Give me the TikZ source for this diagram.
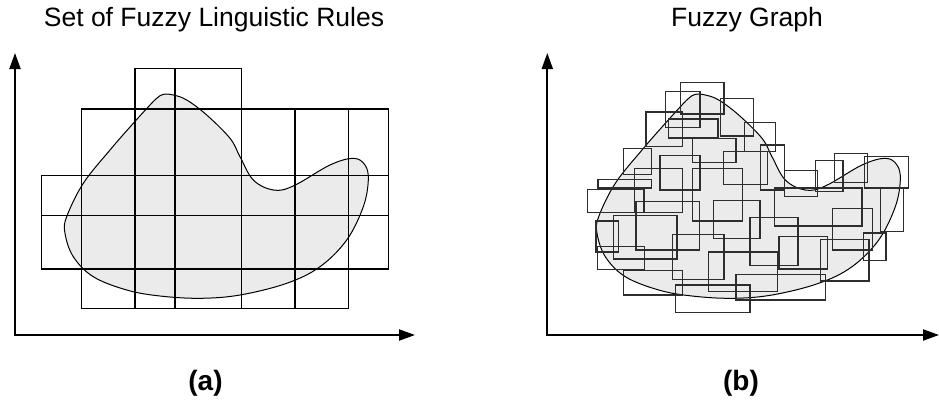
\documentclass[tikz,border=0pt]{standalone}
\usepackage{fontspec}
\setmainfont{Liberation Sans}
\usetikzlibrary{arrows.meta}
\definecolor{blobgray}{RGB}{235, 235, 235}
\definecolor{rulegray}{RGB}{45, 45, 45}
\tikzset{
    axisline/.style={line width=2pt, {Triangle[length=16pt, width=11pt]}-{Triangle[length=16pt, width=11pt]}},
    gridbox/.style={draw=black, line width=1.2pt},
    fuzzybox/.style={draw=rulegray, line width=1.3pt},
    blobshape/.style={fill=blobgray, draw=black, line width=1pt},
    paneltitle/.style={font=\fontsize{26.5}{30}\selectfont, anchor=base, inner sep=0pt},
    panellabel/.style={font=\fontsize{28}{32}\selectfont\bfseries, anchor=base, inner sep=0pt},
    blob/.pic={
        \filldraw[blobshape] plot[smooth cycle, tension=0.6] coordinates {
            (156.7,98.3) (163.3,94.3) (173.3,95) (186.7,100) (206.7,115) (230,138.3)
            (240,156.7) (253.3,180) (273.3,190) (293.3,186) (330,165) (353.3,158.3)
            (365,165) (368.3,180) (363.3,206.7) (346.7,240) (320,266.7) (286.7,283.3)
            (240,295) (200,298.3) (160,296) (126.7,290) (93.3,276.7) (73.3,256.7)
            (65,233.3) (66.7,216.7) (83.3,183.3) (110,150) (133.3,123.3) (150,105)};
    },
}

\begin{document}
\begin{tikzpicture}[x=1pt, y=-1pt]
    \useasboundingbox (0,0) rectangle (939,405);

    % (a) rule grid
    \pic at (0,0) {blob};
    \foreach \xa/\xb in {135/175, 175/241.7}
        \draw[gridbox] (\xa,68.3) rectangle (\xb,109);
    \foreach \xa/\xb in {81.7/135, 135/175, 175/241.7, 241.7/295, 295/348.3, 348.3/388.3}
        \draw[gridbox] (\xa,109) rectangle (\xb,175.7);
    \foreach \xa/\xb in {41.7/81.7, 81.7/135, 135/175, 175/241.7, 241.7/295, 295/348.3, 348.3/388.3}
        \draw[gridbox] (\xa,175.7) rectangle (\xb,215.7);
    \foreach \xa/\xb in {41.7/81.7, 81.7/135, 135/175, 175/241.7, 241.7/295, 295/348.3, 348.3/388.3}
        \draw[gridbox] (\xa,215.7) rectangle (\xb,269);
    \foreach \xa/\xb in {81.7/135, 135/175, 175/241.7, 241.7/295, 295/348.3}
        \draw[gridbox] (\xa,269) rectangle (\xb,308.3);
    \draw[axisline] (15,53) -- (15,335) -- (415,335);

    % (b) fuzzy graph
    \pic at (532,0) {blob};
    \foreach \xa/\ya/\xb/\yb in {
        680.7/82.7/724/114, 665.3/91.7/700/127.3, 720.7/98.3/753.3/136,
        646/112/682.7/146.7, 668.7/119/718/138, 744.7/122.3/775.7/151.7,
        692.7/138.3/736/162.3, 760.7/145/784.3/190, 723.3/151.7/767.3/184.7,
        623.3/148.3/651.3/174.3, 660/155.3/700/190, 692.7/168.7/742.7/221,
        634.3/168.7/682.7/212.3, 598/179.3/651.3/188, 587.7/189.7/644/212.3,
        784.3/170.7/817.3/196.7, 815.3/160.3/843/191.3, 834.3/153.3/867.3/182.3,
        864.3/156.3/908.3/188, 880.7/188/903.3/231.3, 774.3/188/862/226,
        713.3/200.3/760/238.3, 636/201.7/699.3/250, 613.7/215.7/677/259,
        596/221/618.7/252, 597.7/246.7/644.3/269.3, 750/217.3/798/265.3,
        832.3/208.7/872.3/250, 779/236.3/827.3/269, 820.7/239.7/869/281,
        863.3/233/886/260.7, 672.3/234.3/724/279.7, 708.3/252/777.3/291.3,
        623.3/270.7/682.3/295, 736/274.7/825.7/300, 675.3/285/750/312.3}
        \draw[fuzzybox] (\xa,\ya) rectangle (\xb,\yb);
    \draw[axisline] (547.3,53) -- (547.3,335) -- (939,335);

    \node[paneltitle] (titleA) at (214,26.7) {Set of Fuzzy Linguistic Rules};
    \node[paneltitle] (titleB) at (747,26.7) {Fuzzy Graph};
    \node[panellabel] (labelA) at (205.5,390) {(a)};
    \node[panellabel] (labelB) at (741,390) {(b)};
\end{tikzpicture}
\end{document}
